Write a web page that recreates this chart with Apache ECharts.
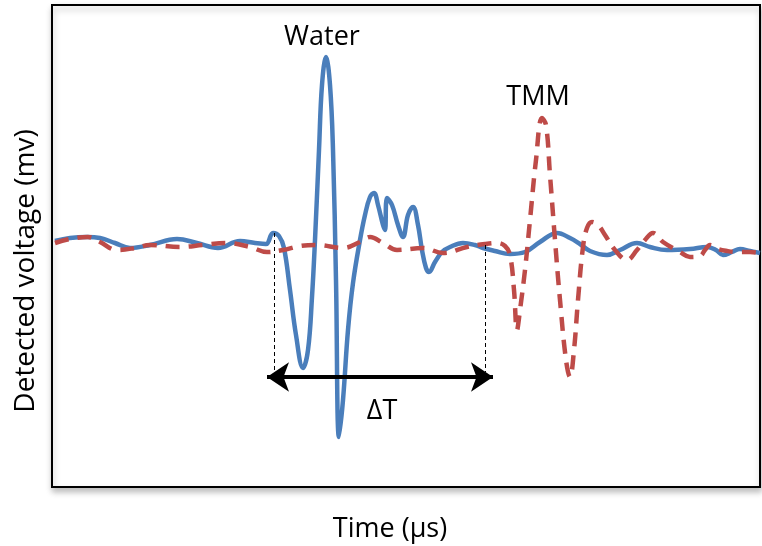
<!DOCTYPE html>
<html>
<head>
<meta charset="utf-8">
<script src="https://cdn.jsdelivr.net/npm/echarts@6/dist/echarts.min.js"></script>
<style>
html,body{margin:0;padding:0;background:#fff;}
#chart{width:762px;height:546px;}
</style>
</head>
<body>
<div id="chart"></div>
<script>
// Water (blue solid): time (arbitrary units) and detected voltage (arbitrary units)
var waterTime = [3,18,35,48,63,78,98,125,145,166,188,203,214,221,227,232,238,244,251,256,260,263,267,270,274,278,281,284,287,291,296,301,308,313,318,322,326,331,333,335,340,346,351,356,361,366,370,374,377,383,390,398,411,423,431,443,458,473,488,505,518,528,538,555,568,585,598,615,638,655,664,671,680,688,698,708];
var waterVoltage = [1,4,5,4,-1,-6,-3,3,-1,-6,1,-1,-2,9,6,-6,-48,-93,-126,-108,-55,2,92,157,185,157,92,-38,-195,-158,-88,-41,2,27,45,49,37,17,12,44,37,17,5,27,35,17,-8,-26,-30,-20,-10,-5,-1,-3,-6,-9,-12,-10,0,9,4,-2,-9,-13,-8,-1,-5,-8,-7,-5,-8,-13,-10,-7,-9,-11];
// TMM (red dashed)
var tmmTime = [3,18,36,48,65,83,98,128,151,175,198,215,231,248,265,291,308,318,331,345,371,391,415,433,445,453,458,462,465,468,473,478,484,490,494,498,503,508,514,518,522,526,531,535,540,546,553,563,575,585,593,601,611,628,638,648,653,658,666,675,685,698,708];
var tmmVoltage = [-1,3,5,0,-8,-6,-3,-5,-3,-1,-5,-10,-8,-4,-3,-6,0,5,-1,-8,-6,-11,-5,-2,-1,-4,-13,-48,-88,-68,-28,22,82,124,117,67,2,-58,-118,-135,-108,-58,-5,14,20,17,7,-8,-18,-8,2,9,0,-10,-15,-14,-8,-3,-7,-9,-10,-10,-11];
// annotation values
var startTime = 222, endTime = 433;
var arrowStart = 215, arrowEnd = 441, arrowLevel = -135;
var guideTop = [9, -3], guideBottom = -130;
var labels = {water: 'Water', tmm: 'TMM', delta: 'ΔT', xTitle: 'Time (µs)', yTitle: 'Detected voltage (mv)'};

function pairs(t, v){ return t.map(function(x,i){ return [x, v[i]]; }); }

var chart = echarts.init(document.getElementById('chart'), null, {renderer:'canvas'});
var font = '"Open Sans", sans-serif';
chart.setOption({
  animation: false,
  backgroundColor: '#fff',
  grid: {left:52, right:2, top:5, bottom:59, show:true, borderColor:'#000', borderWidth:2,
         backgroundColor:'#fff', shadowColor:'rgba(0,0,0,0.25)', shadowBlur:6, shadowOffsetX:1, shadowOffsetY:4},
  xAxis: {type:'value', min:0, max:708, show:false},
  yAxis: {type:'value', min:-245, max:237, show:false},
  series: [
    {type:'line', name:'Water', data: pairs(waterTime, waterVoltage), smooth:0.4, showSymbol:false, symbol:'none',
     lineStyle:{color:'#4a7ebb', width:4.5}, z:3,
     markLine:{silent:true, symbol:'none', label:{show:false},
       data:[
         [{coord:[startTime, guideTop[0]], lineStyle:{color:'#000', width:1, type:[4,3]}}, {coord:[startTime, guideBottom]}],
         [{coord:[endTime, guideTop[1]], lineStyle:{color:'#000', width:1, type:[4,3]}}, {coord:[endTime, guideBottom]}]
       ]}
    },
    {type:'line', name:'TMM', data: pairs(tmmTime, tmmVoltage), smooth:0.4, showSymbol:false, symbol:'none',
     lineStyle:{color:'#be4b48', width:4.5, type:[14,9]}, z:4,
     markLine:{silent:true, symbol:['arrow','arrow'], symbolSize:22, label:{show:false},
       lineStyle:{color:'#000', width:4, type:'solid'},
       data:[[{coord:[arrowStart, arrowLevel]}, {coord:[arrowEnd, arrowLevel]}]]}
    }
  ],
  graphic: [
    {type:'text', x:322, y:37, style:{text:labels.water, font:'27px '+font, fill:'#000', align:'center', verticalAlign:'middle'}},
    {type:'text', x:538, y:97, style:{text:labels.tmm, font:'27px '+font, fill:'#000', align:'center', verticalAlign:'middle'}},
    {type:'text', x:382, y:411, style:{text:labels.delta, font:'27px '+font, fill:'#000', align:'center', verticalAlign:'middle'}},
    {type:'text', x:390, y:529, style:{text:labels.xTitle, font:'27px '+font, fill:'#000', align:'center', verticalAlign:'middle'}},
    {type:'text', x:26, y:271, rotation:Math.PI/2, style:{text:labels.yTitle, font:'28px '+font, fill:'#000', align:'center', verticalAlign:'middle'}}
  ]
});
</script>
</body>
</html>
